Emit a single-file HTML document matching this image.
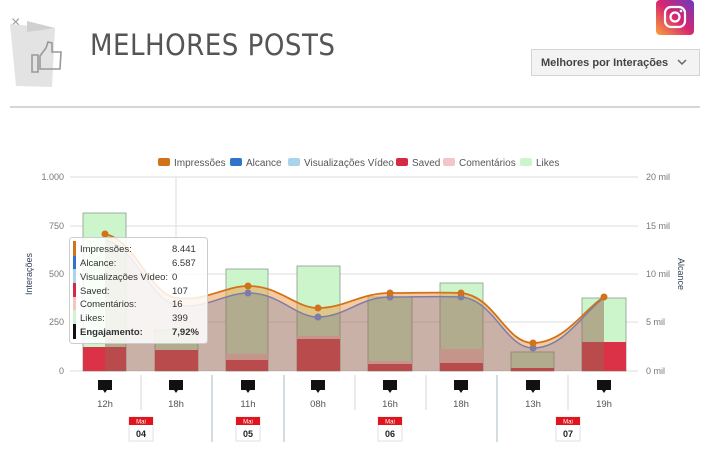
<!DOCTYPE html>
<html><head><meta charset="utf-8"><style>
body{margin:0;width:712px;height:450px;background:#fff;overflow:hidden;font-family:"Liberation Sans",sans-serif;position:relative}
</style></head><body>
<svg width="712" height="450" viewBox="0 0 712 450" xmlns="http://www.w3.org/2000/svg" style="position:absolute;left:0;top:0;font-family:'Liberation Sans',sans-serif">
<defs><linearGradient id="ig" x1="0" y1="1" x2="1" y2="0"><stop offset="0" stop-color="#f9a33a"/><stop offset="0.5" stop-color="#d8266f"/><stop offset="1" stop-color="#6a3ac2"/></linearGradient></defs>
<!-- header -->
<text x="11" y="27" font-size="16" fill="#999">×</text>
<polygon points="10,24 55,28 52,87 16,86" fill="#e3e3e3"/>
<polygon points="27,21 55,28 27,32" fill="#d0d0d0"/>
<path d="M32,55 h6 v17 h-6 z M40,56 l6,-8 l2,-6 l4,1 v9 h9 l-1,17 h-20 z" fill="none" stroke="#999" stroke-width="1.6"/>
<text x="90" y="55" font-size="29" fill="#555" letter-spacing="0.5" style="font-family:'DejaVu Sans Condensed','Liberation Sans Narrow',sans-serif;font-weight:300">MELHORES POSTS</text>
<rect x="656" y="0" width="38" height="35" rx="4" fill="url(#ig)"/>
<rect x="665" y="7" width="20" height="20" rx="6" fill="none" stroke="#fff" stroke-width="2.2"/>
<circle cx="675" cy="17" r="4.5" fill="none" stroke="#fff" stroke-width="2.2"/>
<circle cx="681" cy="11" r="1.3" fill="#fff"/>
<rect x="531.5" y="49.5" width="168" height="26" fill="#f3f3f3" stroke="#d4d4d4"/>
<text x="541" y="66" font-size="11" font-weight="bold" fill="#444">Melhores por Interações</text>
<path d="M678,60 l4,4 l4,-4" fill="none" stroke="#666" stroke-width="1.5"/>
<rect x="10" y="106" width="690" height="2" fill="#d6d6d6"/>
<!-- legend -->
<g font-size="10" fill="#555">
<rect x="158" y="158" width="12" height="8" rx="2" fill="#d0731a"/><text x="174" y="166">Impressões</text>
<rect x="230" y="158" width="12" height="8" rx="2" fill="#2f74c9"/><text x="246" y="166">Alcance</text>
<rect x="288" y="158" width="12" height="8" rx="2" fill="#a9d4ea"/><text x="304" y="166">Visualizações Vídeo</text>
<rect x="396" y="158" width="12" height="8" rx="2" fill="#d42a45"/><text x="412" y="166">Saved</text>
<rect x="443" y="158" width="12" height="8" rx="2" fill="#f5c5c5"/><text x="459" y="166">Comentários</text>
<rect x="520" y="158" width="12" height="8" rx="2" fill="#ccf5cc"/><text x="536" y="166">Likes</text>
</g>
<!-- grid -->
<g stroke="#ddd" stroke-width="1">
<line x1="70" y1="177" x2="638" y2="177"/><line x1="70" y1="226" x2="638" y2="226"/><line x1="70" y1="274" x2="638" y2="274"/><line x1="70" y1="322" x2="638" y2="322"/><line x1="70" y1="371" x2="638" y2="371"/>
<line x1="176" y1="177" x2="176" y2="371"/>
</g>
<g font-size="9" fill="#777" text-anchor="end">
<text x="64" y="180">1.000</text><text x="64" y="229">750</text><text x="64" y="277">500</text><text x="64" y="325">250</text><text x="64" y="374">0</text>
</g>
<g font-size="9" fill="#777">
<text x="646" y="180">20 mil</text><text x="646" y="229">15 mil</text><text x="646" y="277">10 mil</text><text x="646" y="325">5 mil</text><text x="646" y="374">0 mil</text>
</g>
<text transform="translate(32,274) rotate(-90)" font-size="9" fill="#345" text-anchor="middle">Interações</text>
<text transform="translate(678,274) rotate(90)" font-size="9" fill="#345" text-anchor="middle">Alcance</text>
<!-- bars -->
<g stroke="#8a9a8a" stroke-width="0.8">
<rect x="83" y="213" width="43" height="158" fill="#ccf5cc"/>
<rect x="83" y="347" width="43" height="24" fill="#dc3248" stroke="none"/>
<rect x="155" y="330" width="43" height="41" fill="#ccf5cc"/>
<rect x="155" y="350" width="43" height="21" fill="#dc3248" stroke="none"/>
<rect x="226" y="269" width="42" height="102" fill="#ccf5cc"/>
<rect x="226" y="354" width="42" height="6" fill="#f5c5c5" stroke="none"/><rect x="226" y="360" width="42" height="11" fill="#dc3248" stroke="none"/>
<rect x="297" y="266" width="43" height="105" fill="#ccf5cc"/>
<rect x="297" y="336" width="43" height="3" fill="#f5c5c5" stroke="none"/><rect x="297" y="339" width="43" height="32" fill="#dc3248" stroke="none"/>
<rect x="368" y="297" width="44" height="74" fill="#ccf5cc"/>
<rect x="368" y="361" width="44" height="3" fill="#f5c5c5" stroke="none"/><rect x="368" y="364" width="44" height="7" fill="#dc3248" stroke="none"/>
<rect x="440" y="283" width="43" height="88" fill="#ccf5cc"/>
<rect x="440" y="349" width="43" height="14" fill="#f5c5c5" stroke="none"/><rect x="440" y="363" width="43" height="8" fill="#dc3248" stroke="none"/>
<rect x="511" y="352" width="43" height="19" fill="#ccf5cc"/>
<rect x="511" y="368" width="43" height="3" fill="#dc3248" stroke="none"/>
<rect x="582" y="298" width="44" height="73" fill="#ccf5cc"/>
<rect x="582" y="342" width="44" height="29" fill="#dc3248" stroke="none"/>
</g>
<!-- area -->
<path d="M105,240 C135,246 150,300 176,305 C205,310 225,293 248,293 C280,293 295,317 318,317 C345,317 360,297 390,297 C420,297 440,296 461,297 C495,300 505,348 533,348 C565,348 585,310 604,298 L604,371 L105,371 Z" fill="rgba(150,100,80,0.5)"/>
<path d="M105,234 C135,240 150,294 176,298 C205,302 225,286 248,286 C280,286 295,308 318,308 C345,308 360,293 390,293 C420,293 440,292 461,293 C495,296 505,343 533,343 C565,343 585,308 604,297 L604,298 C585,310 565,348 533,348 C505,348 495,300 461,297 C440,296 420,297 390,297 C360,297 345,317 318,317 C295,317 280,293 248,293 C225,293 205,310 176,305 C150,300 135,246 105,240 Z" fill="rgba(240,160,80,0.55)"/>
<path d="M105,240 C135,246 150,300 176,305 C205,310 225,293 248,293 C280,293 295,317 318,317 C345,317 360,297 390,297 C420,297 440,296 461,297 C495,300 505,348 533,348 C565,348 585,310 604,298" fill="none" stroke="#7b7ea8" stroke-width="1.5"/>
<path d="M105,234 C135,240 150,294 176,298 C205,302 225,286 248,286 C280,286 295,308 318,308 C345,308 360,293 390,293 C420,293 440,292 461,293 C495,296 505,343 533,343 C565,343 585,308 604,297" fill="none" stroke="#d0731a" stroke-width="1.8"/>
<g fill="#7b7ea8"><circle cx="248" cy="293" r="3.5"/><circle cx="318" cy="317" r="3.5"/><circle cx="390" cy="297" r="3.5"/><circle cx="461" cy="297" r="3.5"/><circle cx="533" cy="348" r="3.5"/></g>
<g fill="#d0731a"><circle cx="105" cy="234" r="3.5"/><circle cx="248" cy="286" r="3.5"/><circle cx="318" cy="308" r="3.5"/><circle cx="390" cy="293" r="3.5"/><circle cx="461" cy="293" r="3.5"/><circle cx="533" cy="343" r="3.5"/><circle cx="604" cy="297" r="3.5"/></g>
<!-- tooltip -->
<rect x="69.5" y="237.5" width="138" height="106" rx="3" fill="rgba(255,255,255,0.85)" stroke="#ccc"/>
<rect x="73" y="241" width="3" height="15" fill="#d0731a"/><rect x="73" y="256" width="3" height="13" fill="#2f74c9"/><rect x="73" y="269" width="3" height="14" fill="#a9d4ea"/><rect x="73" y="283" width="3" height="14" fill="#d42a45"/><rect x="73" y="297" width="3" height="13" fill="#f5c5c5"/><rect x="73" y="310" width="3" height="14" fill="#ccf5cc"/><rect x="73" y="324" width="3" height="15" fill="#111"/>
<g font-size="9.5" fill="#333">
<text x="80" y="252">Impressões:</text><text x="172" y="252">8.441</text>
<text x="80" y="266">Alcance:</text><text x="172" y="266">6.587</text>
<text x="80" y="280">Visualizações Vídeo:</text><text x="172" y="280">0</text>
<text x="80" y="294">Saved:</text><text x="172" y="294">107</text>
<text x="80" y="307">Comentários:</text><text x="172" y="307">16</text>
<text x="80" y="321">Likes:</text><text x="172" y="321">399</text>
<text x="80" y="335" font-weight="bold">Engajamento:</text><text x="172" y="335" font-weight="bold">7,92%</text>
</g>
<!-- x axis -->
<g stroke-width="1.5">
<line x1="141" y1="375" x2="141" y2="410" stroke="#e4e4e4"/>
<line x1="212" y1="375" x2="212" y2="442" stroke="#c5d3d8"/>
<line x1="284" y1="375" x2="284" y2="442" stroke="#c5d3d8"/>
<line x1="355" y1="375" x2="355" y2="410" stroke="#e4e4e4"/>
<line x1="426" y1="375" x2="426" y2="410" stroke="#e4e4e4"/>
<line x1="497" y1="375" x2="497" y2="442" stroke="#c5d3d8"/>
<line x1="568" y1="375" x2="568" y2="410" stroke="#e4e4e4"/>
</g>
<g fill="#111">
<path d="M98,380 h14 v10 h-5 l-2,3 l-2,-3 h-5 z"/><path d="M169,380 h14 v10 h-5 l-2,3 l-2,-3 h-5 z"/><path d="M241,380 h14 v10 h-5 l-2,3 l-2,-3 h-5 z"/><path d="M311,380 h14 v10 h-5 l-2,3 l-2,-3 h-5 z"/><path d="M383,380 h14 v10 h-5 l-2,3 l-2,-3 h-5 z"/><path d="M454,380 h14 v10 h-5 l-2,3 l-2,-3 h-5 z"/><path d="M526,380 h14 v10 h-5 l-2,3 l-2,-3 h-5 z"/><path d="M597,380 h14 v10 h-5 l-2,3 l-2,-3 h-5 z"/>
</g>
<g font-size="9.5" fill="#555" text-anchor="middle">
<text x="105" y="407">12h</text><text x="176" y="407">18h</text><text x="248" y="407">11h</text><text x="318" y="407">08h</text><text x="390" y="407">16h</text><text x="461" y="407">18h</text><text x="533" y="407">13h</text><text x="604" y="407">19h</text>
</g>
<g font-size="6" text-anchor="middle">
<rect x="129" y="417" width="24" height="24" fill="#fff" stroke="#e0e0e0"/><rect x="129" y="417" width="24" height="8" fill="#e0141e"/><text x="141" y="423.5" fill="#fff">Mai</text><text x="141" y="437" font-size="9" font-weight="bold" fill="#222">04</text>
<rect x="236" y="417" width="24" height="24" fill="#fff" stroke="#e0e0e0"/><rect x="236" y="417" width="24" height="8" fill="#e0141e"/><text x="248" y="423.5" fill="#fff">Mai</text><text x="248" y="437" font-size="9" font-weight="bold" fill="#222">05</text>
<rect x="378" y="417" width="24" height="24" fill="#fff" stroke="#e0e0e0"/><rect x="378" y="417" width="24" height="8" fill="#e0141e"/><text x="390" y="423.5" fill="#fff">Mai</text><text x="390" y="437" font-size="9" font-weight="bold" fill="#222">06</text>
<rect x="556" y="417" width="24" height="24" fill="#fff" stroke="#e0e0e0"/><rect x="556" y="417" width="24" height="8" fill="#e0141e"/><text x="568" y="423.5" fill="#fff">Mai</text><text x="568" y="437" font-size="9" font-weight="bold" fill="#222">07</text>
</g>
</svg>
</body></html>
